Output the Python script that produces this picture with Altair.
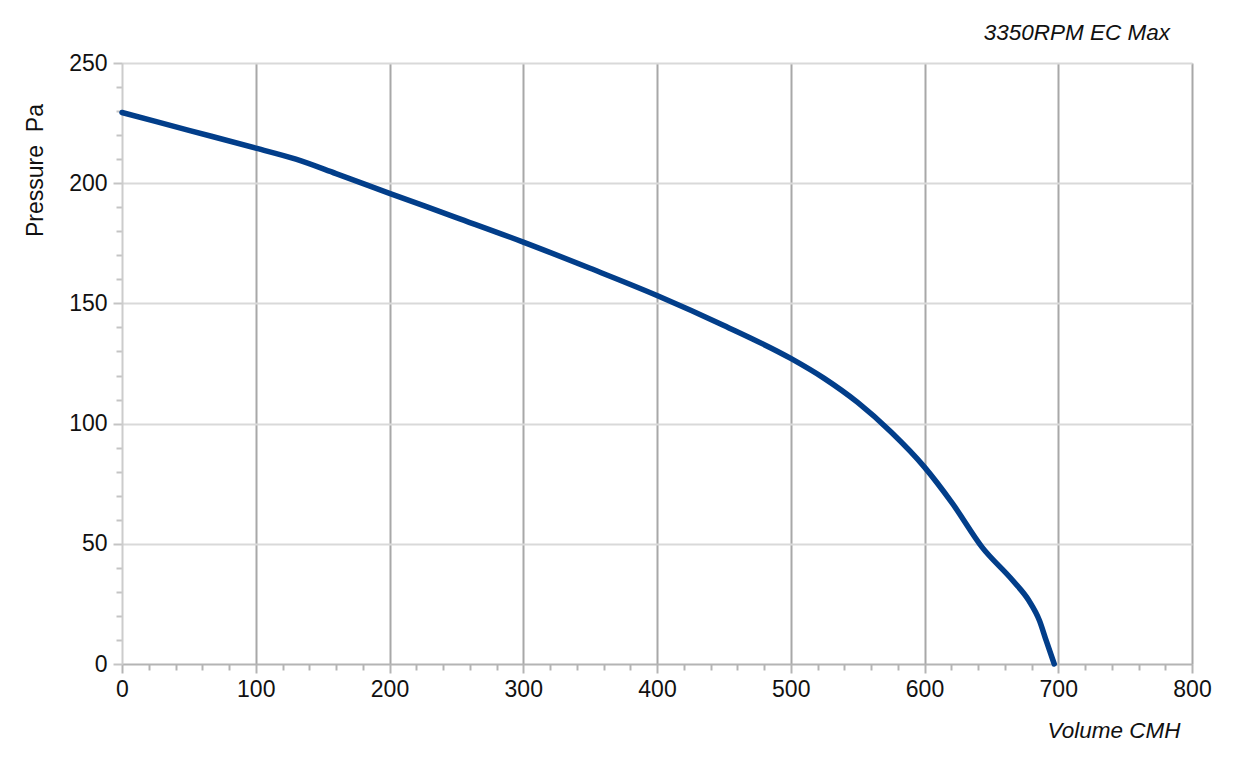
import altair as alt
import pandas as pd

volume = [0, 50, 100, 130, 160, 200, 250, 300, 350, 400, 450, 500, 525, 550, 575, 600, 621, 643, 666, 678, 686, 691, 697]
pressure = [229.4, 222.0, 214.6, 210.0, 204.0, 195.8, 185.7, 175.5, 164.6, 153.3, 140.8, 127.1, 118.8, 108.8, 96.5, 81.9, 66.7, 48.6, 34.7, 26.4, 18.0, 9.7, 0.0]

x_ticks = list(range(0, 801, 20))
y_ticks = list(range(0, 251, 10))

df = pd.DataFrame({"volume": volume, "pressure": pressure})

FONT = "Liberation Sans"

x_axis = alt.Axis(
    values=x_ticks,
    title="Volume CMH",
    titleFont=FONT,
    titleFontSize=22.5,
    titleFontStyle="italic",
    titleFontWeight="normal",
    titleColor="#111111",
    titleAlign="right",
    titleAnchor="end",
    titleBaseline="middle",
    titleX=1058,
    titleY=66,
    labelFont=FONT,
    labelFontSize=23,
    labelColor="#111111",
    labelPadding=5,
    labelFlush=False,
    labelOverlap=False,
    labelExpr="datum.value % 100 === 0 ? datum.label : ''",
    domainColor="#b4b4b4",
    domainWidth=2,
    tickColor="#b4b4b4",
    tickWidth=2,
    tickSize={"condition": {"test": "datum.value % 100 === 0", "value": 9}, "value": 6},
    grid=True,
    gridColor="#a8a8a8",
    gridWidth=2,
    gridOpacity={"condition": {"test": "datum.value % 100 === 0 && datum.value > 0", "value": 1}, "value": 0},
)

y_axis = alt.Axis(
    values=y_ticks,
    title="Pressure\u00a0\u00a0Pa",
    titleFont=FONT,
    titleFontSize=23,
    titleFontWeight="normal",
    titleColor="#111111",
    titleAngle=270,
    titleAlign="center",
    titleBaseline="middle",
    titleX=-87,
    titleY=107,
    labelFont=FONT,
    labelFontSize=23,
    labelColor="#111111",
    labelPadding=6,
    labelFlush=False,
    labelOverlap=False,
    labelExpr="datum.value % 50 === 0 ? datum.label : ''",
    domainColor="#cccccc",
    domainWidth=2,
    tickColor="#c4c4c4",
    tickWidth=2,
    tickSize={"condition": {"test": "datum.value % 50 === 0", "value": 9}, "value": 6},
    grid=True,
    gridColor="#d9d9d9",
    gridWidth=2,
    gridOpacity={"condition": {"test": "datum.value % 50 === 0 && datum.value > 0", "value": 1}, "value": 0},
)

chart = (
    alt.Chart(df)
    .mark_line(color="#023e8a", strokeWidth=5.5, interpolate="monotone", strokeCap="round")
    .encode(
        x=alt.X("volume:Q", scale=alt.Scale(domain=[0, 800], nice=False, zero=True), axis=x_axis),
        y=alt.Y("pressure:Q", scale=alt.Scale(domain=[0, 250], nice=False), axis=y_axis),
    )
    .properties(
        width=1070,
        height=601,
        autosize=alt.AutoSizeParams(type="none"),
        padding={"left": 114, "top": 55, "right": 30, "bottom": 85},
        title=alt.TitleParams(
            "3350RPM EC Max",
            anchor="end",
            frame="group",
            dx=-22,
            offset=8,
            font=FONT,
            fontSize=22.5,
            fontStyle="italic",
            fontWeight="normal",
            color="#111111",
        ),
    )
    .configure_view(strokeWidth=0)
    .configure(background="white")
)

chart.save("out.html", embed_options={"renderer": "svg", "actions": False})
